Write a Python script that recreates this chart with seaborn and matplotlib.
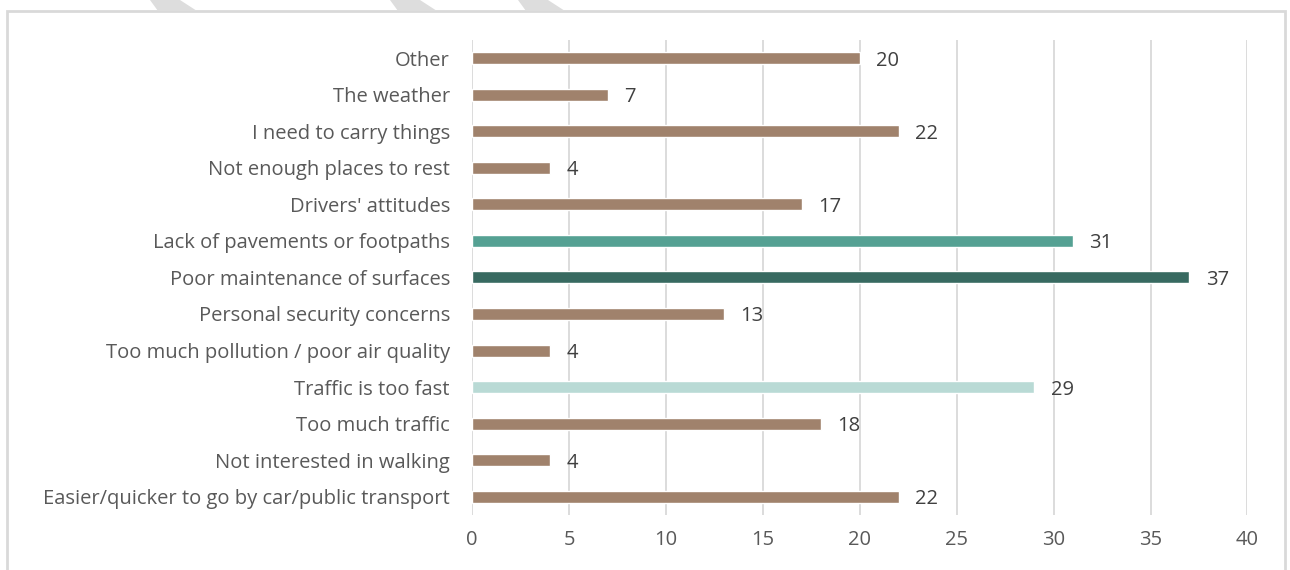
import seaborn as sns
import matplotlib.pyplot as plt
import pandas as pd
from matplotlib.patches import Polygon, Rectangle

# DATA
categories = ["Other", "The weather", "I need to carry things",
              "Not enough places to rest", "Drivers' attitudes",
              "Lack of pavements or footpaths", "Poor maintenance of surfaces",
              "Personal security concerns", "Too much pollution / poor air quality",
              "Traffic is too fast", "Too much traffic", "Not interested in walking",
              "Easier/quicker to go by car/public transport"]
counts = [20, 7, 22, 4, 17, 31, 37, 13, 4, 29, 18, 4, 22]
bar_colors = ["#A0826C", "#A0826C", "#A0826C", "#A0826C", "#A0826C",
              "#55A193", "#386A61", "#A0826C", "#A0826C", "#B9DAD5",
              "#A0826C", "#A0826C", "#A0826C"]
x_ticks = [0, 5, 10, 15, 20, 25, 30, 35, 40]

df = pd.DataFrame({"reason": categories, "count": counts})

sns.set_theme(style="white")
plt.rcParams['font.family'] = ['Open Sans', 'DejaVu Sans']

fig = plt.figure(figsize=(12.9, 5.7), dpi=100)
ax = fig.add_axes([0.366, 0.0965, 0.601, 0.8335])

sns.barplot(data=df, x="count", y="reason", hue="reason", palette=bar_colors,
            legend=False, width=0.33, saturation=1, ax=ax)

# VALUE LABELS
for i, v in enumerate(counts):
    ax.text(v + 0.85, i, str(v), va="center_baseline", ha="left",
            fontsize=14.5, color="#404040")

# AXES STYLE
ax.set_xlim(0, 40)
ax.set_xticks(x_ticks)
ax.set_xticklabels([str(t) for t in x_ticks], fontsize=14.5, color="#595959")
ax.set_yticks(range(len(categories)))
ax.set_yticklabels(categories, fontsize=14.5, color="#595959", va="center_baseline")
ax.set_xlabel("")
ax.set_ylabel("")
ax.tick_params(axis="y", length=0, pad=16)
ax.tick_params(axis="x", length=0, pad=11)
ax.grid(axis="x", color="#D9D9D9", linewidth=1.3)
ax.set_axisbelow(True)
for s in ax.spines.values():
    s.set_visible(False)

# CHART BORDER AND FAINT WATERMARK STRIPES (figure pixels)
W, H = 1290, 570
fig.patches.append(Rectangle((7 / W, -0.05), 1278 / W, 1 - 11 / H + 0.05,
                             transform=fig.transFigure, fill=False,
                             edgecolor="#D9D9D9", linewidth=2))
for x0 in [150, 390, 518]:
    pts = [(x0, 0), (x0 + 30, 0), (x0 + 47, 11), (x0 + 8, 11)]
    fig.patches.append(Polygon([(px / W, 1 - py / H) for px, py in pts],
                               closed=True, transform=fig.transFigure,
                               facecolor="#DDDDDD", edgecolor="none"))

fig.savefig("out.png", dpi=100)
